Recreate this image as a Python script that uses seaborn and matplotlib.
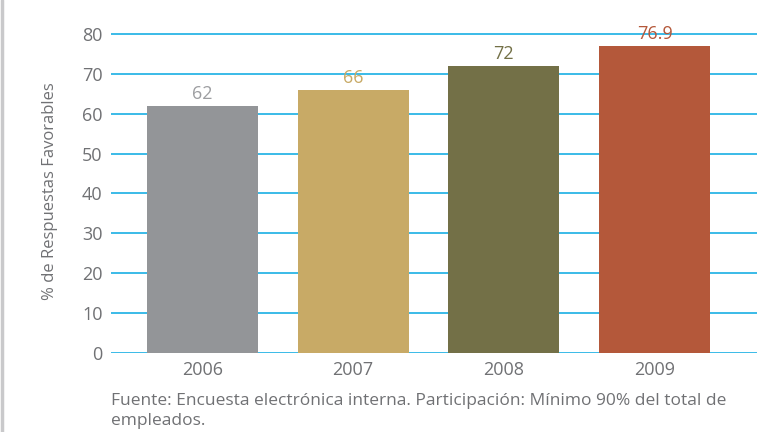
import pandas as pd
import matplotlib.pyplot as plt
import seaborn as sns
from matplotlib.lines import Line2D

# Data
years = ["2006", "2007", "2008", "2009"]
values = [62, 66, 72, 76.9]
bar_colors = ["#939598", "#c8aa66", "#737047", "#b4583a"]
label_colors = ["#9d9ea1", "#c8aa66", "#737047", "#b4583a"]
yticks = [0, 10, 20, 30, 40, 50, 60, 70, 80]

df = pd.DataFrame({"Año": years, "Valor": values})

sns.set_style("white")
plt.rcParams["font.family"] = ["Open Sans", "DejaVu Sans"]

text_gray = "#707174"
grid_blue = "#2bb5e6"

fig = plt.figure(figsize=(7.73, 4.32), dpi=100)
ax = fig.add_axes([0.1436, 0.1829, 0.8358, 0.7477])

sns.barplot(data=df, x="Año", y="Valor", hue="Año", palette=bar_colors,
            legend=False, width=0.737, saturation=1, linewidth=0, ax=ax, zorder=3)

ax.set_ylim(0, 81)
ax.set_xlim(-0.607, 3.68)
ax.set_yticks(yticks)
ax.yaxis.grid(True, color=grid_blue, linewidth=1.3)
ax.xaxis.grid(False)
ax.set_axisbelow(True)
for s in ax.spines.values():
    s.set_visible(False)

ax.tick_params(axis="y", length=0, pad=6, labelsize=13, labelcolor=text_gray)
ax.tick_params(axis="x", length=0, pad=6, labelsize=13, labelcolor=text_gray)
ax.set_xlabel("")
ax.set_ylabel("% de Respuestas Favorables", fontsize=12, color=text_gray, labelpad=17)

# value labels above bars
for i, (v, c) in enumerate(zip(values, label_colors)):
    ax.text(i, v + 0.8, f"{v:g}", ha="center", va="bottom", fontsize=13, color=c, zorder=4)

fig.text(111 / 773, 1 - 411 / 432,
         "Fuente: Encuesta electrónica interna. Participación: Mínimo 90% del total de\nempleados.",
         ha="left", va="center", fontsize=12.5, color=text_gray, linespacing=1.35)

# gray border on left edge
fig.add_artist(Line2D([0.002, 0.002], [0, 1], color="#c9c9cb", linewidth=2.5,
                      transform=fig.transFigure))

plt.savefig("out.png", dpi=100)
